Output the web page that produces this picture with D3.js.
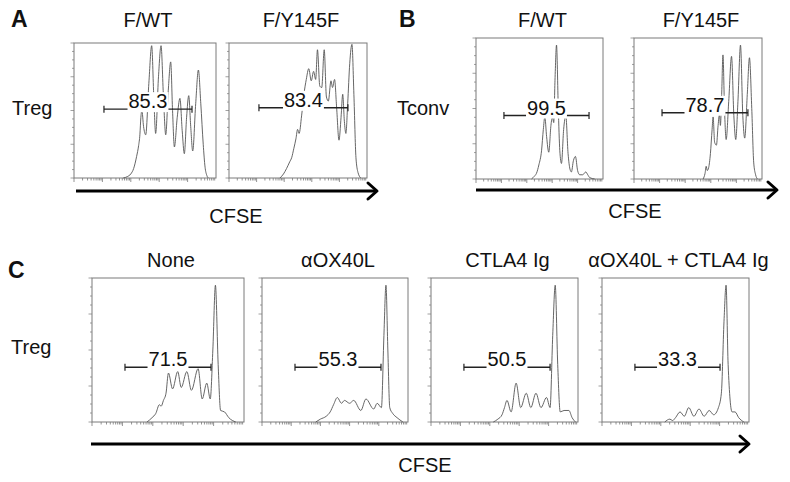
<!DOCTYPE html>
<html><head><meta charset="utf-8">
<script src="https://cdn.jsdelivr.net/npm/d3@7"></script>
<style>
html,body{margin:0;padding:0;background:#fff;}
text{font-family:"Liberation Sans",Arial,Helvetica,sans-serif;}
</style></head>
<body>
<svg id="chart" width="790" height="482"></svg>
<script>
// ---------- DATA (x = CFSE channel 0-1000 on log display, y = % of max count) ----------
const panelTitlesA = ["F/WT", "F/Y145F"];
const panelTitlesB = ["F/WT", "F/Y145F"];
const panelTitlesC = ["None", "αOX40L", "CTLA4 Ig", "αOX40L + CTLA4 Ig"];
const rowLabels = ["Treg", "Tconv", "Treg"];
const axisLabel = "CFSE";
const gateValues = ["85.3", "83.4", "99.5", "78.7", "71.5", "55.3", "50.5", "33.3"];
const gateLow  = [211, 217, 220, 219, 217, 226, 224, 224];
const gateHigh = [831, 862, 890, 890, 783, 815, 810, 803];
const gateLevel = [51, 52, 45, 47, 38, 38, 38, 38];

const a1X = [347,375,400,420,441,455,464,471,478,490,505,527,547,562,575,595,613,630,646,664,681,694,707,727,746,762,777,793,808,822,836,857,876,893,910,923,935,946];
const a1Y = [0,1,3,7,16,24,32,45,50,38,32,70,98,60,33,75,98,60,32,65,86,50,23,45,59,35,18,45,61,38,20,55,80,55,25,8,2,0];

const a2X = [369,395,417,440,454,470,485,497,508,526,543,560,578,596,613,628,641,658,672,690,706,720,739,750,765,780,797,812,824,836,847,860,875,891,905,920,935,955];
const a2Y = [0,3,7,12,15,22,29,36,33,46,62,73,81,72,79,73,95,68,67,95,60,57,72,67,73,52,28,45,62,42,33,55,85,99,62,15,4,0];

const b1X = [437,460,476,495,516,530,542,556,573,590,602,612,622,634,648,660,673,690,707,725,740,751,767,783,800,817,840,864,880,895,935];
const b1Y = [0,2,4,10,20,35,44,30,19,38,44,40,70,95,50,20,11,35,45,18,7,5,13,16,6,3,3,5,3,1,0];

const b2X = [540,555,564,572,583,597,610,618,630,644,657,668,675,685,695,707,720,740,762,780,795,812,832,850,865,885,902,920,935,950,965];
const b2Y = [0,4,9,6,8,18,35,44,26,24,38,46,38,60,88,50,28,55,87,45,28,55,95,45,29,60,86,50,12,3,0];

const c1X = [362,395,420,443,455,470,487,503,530,564,587,624,654,698,725,755,778,795,812,830,846,872,900,946];
const c1Y = [0,3,6,12,11,15,20,34,23,35,24,35,22,37,16,27,16,50,95,40,8,7,3,0];

const c2X = [368,400,440,467,490,516,544,565,600,628,677,712,765,789,818,835,849,862,875,895,925,965];
const c2Y = [0,2,4,7,12,17,13,15,13,15,8,16,9,13,10,60,95,50,10,6,3,0];

const c3X = [424,455,483,500,517,545,579,610,648,679,714,748,786,810,828,845,862,879,905,938,960,983];
const c3Y = [0,2,5,10,15,7,27,10,20,10,20,10,17,10,60,95,40,7,8,8,3,0];

const c4X = [427,462,480,500,531,560,590,625,660,695,729,760,792,812,830,844,858,885,905,930,965];
const c4Y = [0,2,1,3,7,4,10,4,9,4,8,5,10,20,70,95,40,7,7,3,0];

// ---------- LAYOUT ----------
const svg = d3.select("#chart");
const boxes = [
  {x0:74,  x1:216, y0:43,  y1:178, xs:a1X, ys:a1Y},
  {x0:229, x1:367, y0:43,  y1:178, xs:a2X, ys:a2Y},
  {x0:476, x1:603, y0:38,  y1:179, xs:b1X, ys:b1Y},
  {x0:634, x1:762, y0:38,  y1:179, xs:b2X, ys:b2Y},
  {x0:92,  x1:244, y0:278, y1:422, xs:c1X, ys:c1Y},
  {x0:262, x1:408, y0:278, y1:422, xs:c2X, ys:c2Y},
  {x0:431, x1:578, y0:278, y1:422, xs:c3X, ys:c3Y},
  {x0:602, x1:749, y0:278, y1:422, xs:c4X, ys:c4Y}
];
const titles = panelTitlesA.concat(panelTitlesB, panelTitlesC);
const titleBase = [27,27,27,27,267,267,267,267];

// minor log ticks along x (5 decades over 1000 channels)
const xTickVals = [];
for (let d = 0; d < 5; d++) for (let k = 1; k <= 9; k++) xTickVals.push({v: 200 * (d + Math.log10(k)), major: k === 1});
const yTickVals = d3.range(0, 101, 6.25).map((v, i) => ({v, major: i % 4 === 0}));

boxes.forEach((b, i) => {
  const x = d3.scaleLinear().domain([0, 1000]).range([b.x0, b.x1]);
  const y = d3.scaleLinear().domain([0, 100]).range([b.y1, b.y0]);
  const g = svg.append("g");

  g.selectAll(".xt").data(xTickVals).join("line")
    .attr("x1", d => x(d.v)).attr("x2", d => x(d.v))
    .attr("y1", b.y1).attr("y2", d => b.y1 + (d.major ? 4 : 2.5))
    .attr("stroke", "#777").attr("stroke-width", 0.8);
  g.selectAll(".yt").data(yTickVals).join("line")
    .attr("x1", b.x0).attr("x2", d => b.x0 - (d.major ? 3.5 : 2))
    .attr("y1", d => y(d.v)).attr("y2", d => y(d.v))
    .attr("stroke", "#888").attr("stroke-width", 0.8);

  g.append("rect").attr("x", b.x0).attr("y", b.y0)
    .attr("width", b.x1 - b.x0).attr("height", b.y1 - b.y0)
    .attr("fill", "none").attr("stroke", "#7a7a7a").attr("stroke-width", 1);

  const pts = b.xs.map((v, j) => [v, b.ys[j]]);
  g.append("path").datum(pts)
    .attr("d", d3.line().x(d => x(d[0])).y(d => y(d[1])).curve(d3.curveMonotoneX))
    .attr("fill", "none").attr("stroke", "#555").attr("stroke-width", 0.9);

  const gy = y(gateLevel[i]);
  const gx0 = x(gateLow[i]), gx1 = x(gateHigh[i]);
  g.append("line").attr("x1", gx0).attr("x2", gx1).attr("y1", gy).attr("y2", gy)
    .attr("stroke", "#222").attr("stroke-width", 1.4);
  [gx0, gx1].forEach(px => g.append("line").attr("x1", px).attr("x2", px)
    .attr("y1", gy - 3.5).attr("y2", gy + 3.5).attr("stroke", "#222").attr("stroke-width", 1.2));
  const t = g.append("text").attr("x", (gx0 + gx1) / 2).attr("y", gy - 1)
    .attr("text-anchor", "middle").attr("font-size", 20).attr("fill", "#111")
    .text(gateValues[i]);
  const bb = t.node().getBBox();
  g.insert("rect", "text").attr("x", bb.x - 1).attr("y", bb.y + 2)
    .attr("width", bb.width + 2).attr("height", bb.height - 2).attr("fill", "#fff");

  svg.append("text").attr("x", (b.x0 + b.x1) / 2 + 3).attr("y", titleBase[i])
    .attr("text-anchor", "middle").attr("font-size", 20).attr("fill", "#111").text(titles[i]);
});

[["A", 11, 27], ["B", 399, 27], ["C", 8, 278]].forEach(([s, px, py]) =>
  svg.append("text").attr("x", px).attr("y", py).attr("font-size", 23)
    .attr("font-weight", "bold").attr("fill", "#111").text(s));

[[12, 115], [397, 115], [11, 354]].forEach(([px, py], i) =>
  svg.append("text").attr("x", px).attr("y", py).attr("font-size", 20).attr("fill", "#111").text(rowLabels[i]));

[[76, 377, 191, 236, 223], [476, 777, 190, 635, 218], [91, 749, 444, 425, 472]].forEach(([x0, x1, ay, lx, ly]) => {
  svg.append("line").attr("x1", x0).attr("x2", x1 - 2).attr("y1", ay).attr("y2", ay)
    .attr("stroke", "#000").attr("stroke-width", 3);
  svg.append("path").attr("d", `M${x1 - 9},${ay - 8} L${x1},${ay} L${x1 - 9},${ay + 8}`)
    .attr("fill", "none").attr("stroke", "#000").attr("stroke-width", 3)
    .attr("stroke-linecap", "round").attr("stroke-linejoin", "round");
  svg.append("text").attr("x", lx).attr("y", ly).attr("text-anchor", "middle")
    .attr("font-size", 20).attr("fill", "#111").text(axisLabel);
});
</script>
</body></html>
